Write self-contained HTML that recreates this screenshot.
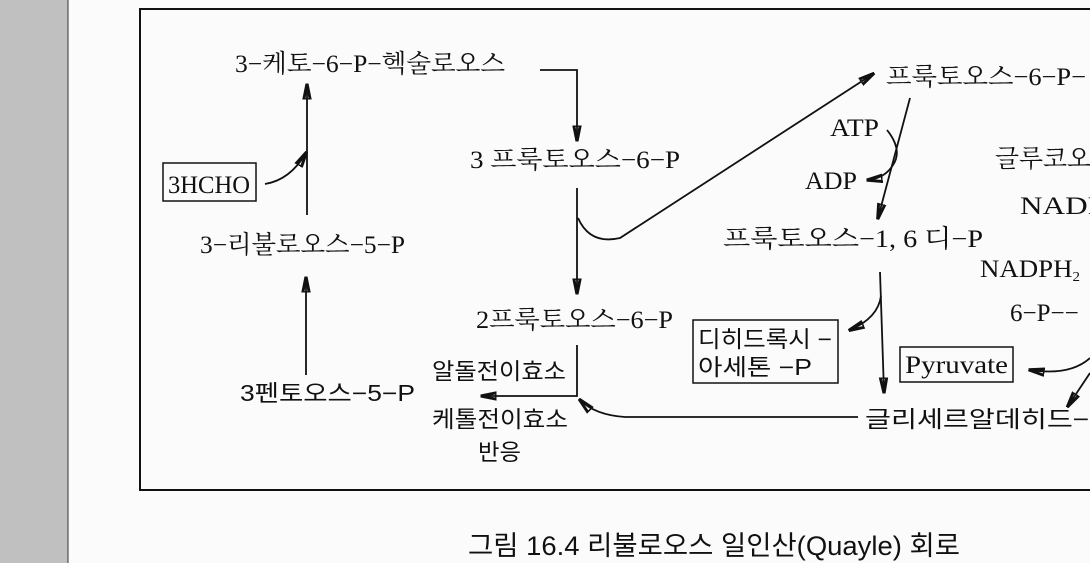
<!DOCTYPE html>
<html><head><meta charset="utf-8"><style>
html,body{margin:0;padding:0;width:1090px;height:563px;overflow:hidden;background:#fbfbfb}
svg{display:block}
text{font-family:"Liberation Serif","Noto Serif CJK SC","Noto Sans CJK KR",serif;font-size:25px;fill:#111}
.k{font-family:"Liberation Sans","Noto Sans CJK KR",sans-serif;font-size:23px}
line,path{stroke:#111;stroke-width:1.8;fill:none}
</style></head><body>
<svg width="1090" height="563" viewBox="0 0 1090 563">
<defs><marker id="a" viewBox="0 0 10 10" refX="9" refY="5" markerWidth="9" markerHeight="9" orient="auto-start-reverse"><path d="M0,3 L10,5 L0,7 Z" fill="#222" stroke="none"/></marker></defs>
<rect x="0" y="0" width="68" height="563" fill="#c0c0c0"/>
<line x1="68" y1="0" x2="68" y2="563" style="stroke:#333;stroke-width:1"/>
<rect x="140" y="9" width="960" height="481" style="fill:none;stroke:#111;stroke-width:2"/>

<text x="235" y="72" textLength="270" lengthAdjust="spacingAndGlyphs">3−케토−6−P−헥술로오스</text>
<path d="M540,70 L577,70 L577,140" marker-end="url(#a)"/>
<text x="470" y="168" textLength="210" lengthAdjust="spacingAndGlyphs">3 프룩토오스−6−P</text>
<rect x="163" y="163" width="93" height="38" style="fill:none;stroke:#111;stroke-width:1.5"/>
<text x="168" y="193" textLength="82" lengthAdjust="spacingAndGlyphs">3HCHO</text>
<line x1="307" y1="215" x2="307" y2="85" marker-end="url(#a)"/>
<path d="M265,184 Q290,180 306,153" marker-end="url(#a)"/>
<text x="200" y="253" textLength="205" lengthAdjust="spacingAndGlyphs">3−리불로오스−5−P</text>
<line x1="306" y1="375" x2="306" y2="278" marker-end="url(#a)"/>
<text x="240" y="401" class="k" textLength="175" lengthAdjust="spacingAndGlyphs">3펜토오스−5−P</text>
<text x="476" y="328" textLength="197" lengthAdjust="spacingAndGlyphs">2프룩토오스−6−P</text>
<line x1="577" y1="188" x2="577" y2="293" marker-end="url(#a)"/>
<path d="M578,218 Q590,245 620,238 L873,74" marker-end="url(#a)"/>
<text x="886" y="85" textLength="200" lengthAdjust="spacingAndGlyphs">프룩토오스−6−P−</text>
<text x="830" y="136" textLength="49" lengthAdjust="spacingAndGlyphs">ATP</text>
<text x="805" y="189" textLength="52" lengthAdjust="spacingAndGlyphs">ADP</text>
<line x1="910" y1="98" x2="878" y2="218" marker-end="url(#a)"/>
<path d="M887,130 Q903,150 893,165 Q885,178 868,180" marker-end="url(#a)"/>
<text x="723" y="247" textLength="260" lengthAdjust="spacingAndGlyphs">프룩토오스−1, 6 디−P</text>
<text x="995" y="167" textLength="120" lengthAdjust="spacingAndGlyphs">글루코오스</text>
<text x="1020" y="214" textLength="85" lengthAdjust="spacingAndGlyphs">NADP</text>
<text x="980" y="277" textLength="100" lengthAdjust="spacingAndGlyphs">NADPH<tspan font-size="14" dy="4">2</tspan></text>
<text x="1010" y="321">6−P−−</text>
<line x1="880" y1="272" x2="884" y2="392" marker-end="url(#a)"/>
<path d="M881,296 Q878,318 850,330" marker-end="url(#a)"/>
<rect x="693" y="320" width="145" height="63" style="fill:none;stroke:#111;stroke-width:1.5"/>
<text x="698" y="347" class="k" textLength="134" lengthAdjust="spacingAndGlyphs">디히드록시 −</text>
<text x="698" y="375" class="k" textLength="114" lengthAdjust="spacingAndGlyphs">아세톤 −P</text>
<rect x="900" y="347" width="113" height="35" style="fill:none;stroke:#111;stroke-width:1.5"/>
<text x="905" y="373" textLength="103" lengthAdjust="spacingAndGlyphs">Pyruvate</text>
<path d="M1090,358 Q1070,376 1030,370" marker-end="url(#a)"/>
<line x1="1090" y1="373" x2="1068" y2="406" marker-end="url(#a)"/>
<text x="865" y="427" class="k" textLength="240" lengthAdjust="spacingAndGlyphs">글리세르알데히드−3</text>
<path d="M577,345 L577,396 L482,396" marker-end="url(#a)"/>
<path d="M858,417 L625,417 Q595,415 580,400" marker-end="url(#a)"/>
<text x="432" y="379" class="k" textLength="134" lengthAdjust="spacingAndGlyphs">알돌전이효소</text>
<text x="432" y="427" class="k" textLength="136" lengthAdjust="spacingAndGlyphs">케톨전이효소</text>
<text x="478" y="460" class="k" textLength="43" lengthAdjust="spacingAndGlyphs">반응</text>
<text x="468" y="555" class="k" style="font-size:27px" textLength="492" lengthAdjust="spacingAndGlyphs">그림 16.4 리불로오스 일인산(Quayle) 회로</text>
</svg>
</body></html>
